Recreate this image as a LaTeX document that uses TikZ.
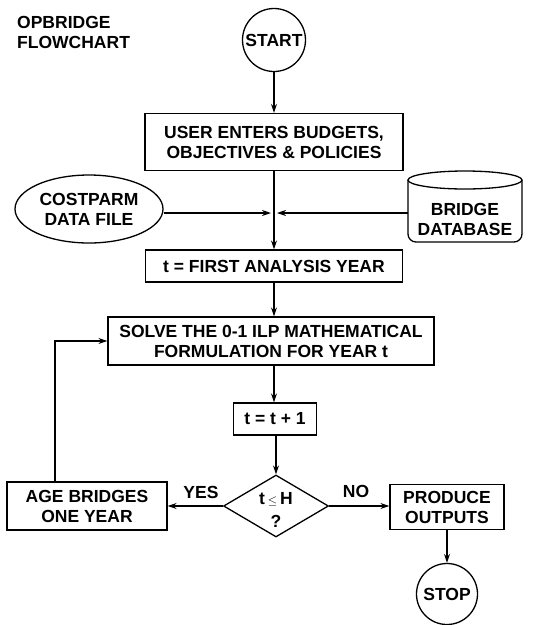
\documentclass[tikz,border=0pt]{standalone}
\usepackage{fontspec}
\setmainfont{Liberation Sans}
\usetikzlibrary{shapes.geometric,arrows.meta}
\begin{document}
\begin{tikzpicture}[x=1pt,y=-1pt,
  every node/.style={font=\bfseries\fontsize{17.5}{20}\selectfont, align=center, inner sep=0pt},
  boxnode/.style={draw, line width=1.3pt, minimum height=#1},
  term/.style={draw, circle, line width=1.3pt, minimum size=63},
  flow/.style={line width=1.3pt, -{Stealth[length=9pt,width=6pt]}},
  plain/.style={line width=1.3pt}]
\useasboundingbox (0,0) rectangle (547,625);
\node[anchor=north west, align=left] (title) at (17,16) {OPBRIDGE\\FLOWCHART};
\node[term] (start) at (274,40) {START};
\node[boxnode=57, minimum width=258] (user) at (274,142) {USER ENTERS BUDGETS,\\OBJECTIVES \& POLICIES};
\node[draw, ellipse, line width=1.3pt, minimum width=148, minimum height=68] (cost) at (89,209) {COSTPARM\\DATA FILE};
% cylinder
\draw[line width=1.3pt] (465,180) ellipse [x radius=57, y radius=9];
\draw[line width=1.3pt] (408,180) -- (408,234) to[out=-90,in=180] (416,242) -- (514,242) to[out=0,in=-90] (522,234) -- (522,180);
\node (db) at (465,219) {BRIDGE\\DATABASE};
\coordinate (dbw) at (408,213);
\coordinate (m) at (274,213);
\node[boxnode=32, minimum width=257] (first) at (274,266) {t = FIRST ANALYSIS YEAR};
\node[boxnode=48, minimum width=326] (solve) at (271,341) {SOLVE THE 0-1 ILP MATHEMATICAL\\FORMULATION FOR YEAR t};
\node[boxnode=32, minimum width=83] (inc) at (275,419) {t = t + 1};
\node[draw, diamond, aspect=1.7, line width=1.3pt, minimum width=105, minimum height=62] (dec) at (276,506) {};
\node at (276,499) {t\,$\scriptstyle\le$\,H};
\node at (276,521) {?};
\node[boxnode=48, minimum width=160] (age) at (87,506) {AGE BRIDGES\\ONE YEAR};
\node[boxnode=45, minimum width=114] (prod) at (447,507) {PRODUCE\\OUTPUTS};
\node[term, minimum size=61] (stop) at (447,594) {STOP};
\node (yes) at (201,492) {YES};
\node (no) at (356,491) {NO};
\draw[flow] (start) -- (user);
\draw[plain] (user.south) -- (m);
\draw[flow] (m) -- (first.north -| m);
\draw[flow, shorten >=3pt] (m -| cost.east) -- (m);
\draw[flow, shorten >=3pt] (dbw) -- (m);
\draw[flow] (first.south -| m) -- (solve.north -| m);
\draw[flow] (solve.south -| m) -- (inc.north -| m);
\draw[flow] (inc.south -| dec.north) -- (dec.north);
\draw[flow] (dec.west) -- (age.east |- dec.west);
\draw[flow] (dec.east) -- (prod.west |- dec.east);
\draw[flow] (prod) -- (stop);
\draw[flow] (age.north -| 55,0) |- (solve.west);
\end{tikzpicture}
\end{document}
